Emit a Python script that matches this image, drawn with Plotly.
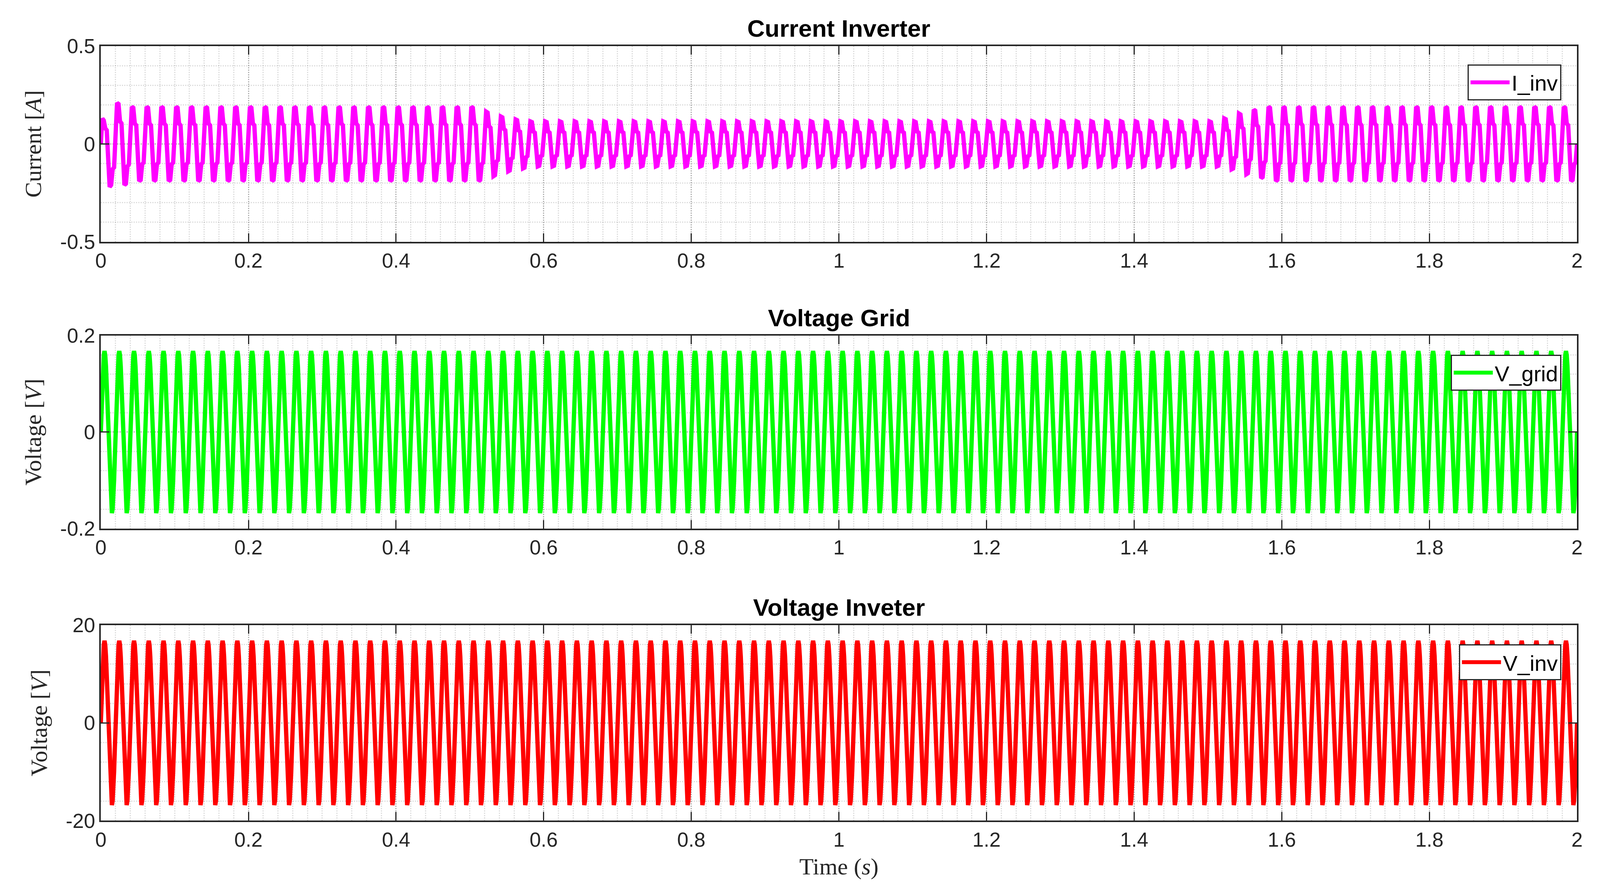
import numpy as np
import plotly.graph_objects as go
from plotly.subplots import make_subplots

# ---- data ----
f_grid = 50.0          # Hz, 100 cycles over 2 s
n_cycles = 100
t_end = 2.0

# one normalised cycle of the inverter current (10 samples)
i_cycle_shape = [0.6, 1.0, 0.97, 0.55, 0.5, -0.6, -1.0, -0.97, -0.55, -0.5]
# first cycle (start-up transient)
i_first_cycle = [0.0, 0.13, 0.12, 0.08, 0.07, -0.12, -0.22, -0.21, -0.13, -0.12]
# peak amplitude of each following cycle [A]
i_cycle_amp = ([0.21] + [0.19] * 24 + [0.165, 0.14, 0.125] + [0.115] * 47
               + [0.13, 0.155, 0.175] + [0.19] * 21)

# one normalised cycle of the voltages (20 samples)
v_cycle_shape = [0.0, 0.31, 0.59, 0.81, 0.95, 1.0, 0.95, 0.81, 0.59, 0.31,
                 0.0, -0.31, -0.59, -0.81, -0.95, -1.0, -0.95, -0.81, -0.59, -0.31]
v_grid_amp = 0.168     # V
v_inv_amp = 16.8       # V

x_ticks = [0, 0.2, 0.4, 0.6, 0.8, 1, 1.2, 1.4, 1.6, 1.8, 2]
y_ticks = [[-0.5, 0, 0.5], [-0.2, 0, 0.2], [-20, 0, 20]]
panel_titles = ["Current Inverter", "Voltage Grid", "Voltage Inveter"]


def build(shape, amps, first=None):
    vals = []
    for k, a in enumerate(amps):
        if k == 0 and first is not None:
            vals += first
        else:
            vals += [a * s for s in shape]
    vals.append(0.0)
    t = np.linspace(0, t_end, len(vals))
    return t, np.array(vals)


t_i, i_inv = build(i_cycle_shape, [0.0] + i_cycle_amp, i_first_cycle)
t_v, v_grid = build(v_cycle_shape, [v_grid_amp] * n_cycles)
_, v_inv = build(v_cycle_shape, [v_inv_amp] * n_cycles)

fig = make_subplots(rows=3, cols=1)

fig.add_trace(go.Scatter(x=t_i, y=i_inv, mode="lines", name="I_inv", showlegend=True,
                         line=dict(color="#ff00ff", width=11), legend="legend"), row=1, col=1)
fig.add_trace(go.Scatter(x=t_v, y=v_grid, mode="lines", name="V_grid", showlegend=True,
                         line=dict(color="#00ff00", width=11), legend="legend2"), row=2, col=1)
fig.add_trace(go.Scatter(x=t_v, y=v_inv, mode="lines", name="V_inv", showlegend=True,
                         line=dict(color="#ff0000", width=11), legend="legend3"), row=3, col=1)

doms = [[0.735, 0.960], [0.405, 0.627], [0.069, 0.294]]
yranges = [[-0.5, 0.5], [-0.2, 0.2], [-20, 20]]
ydt = [0.5, 0.2, 20]
ytitles = ["Current [<i>A</i>]", "Voltage [<i>V</i>]", "Voltage [<i>V</i>]"]
axis_col = "#262626"
grid_col = "rgba(120,120,120,0.45)"
minor_col = "rgba(140,140,140,0.3)"

for r in range(3):
    fig.update_xaxes(row=r + 1, col=1, range=[0, 2], domain=[0.060, 0.989],
                     tickvals=x_ticks, ticktext=[str(v) for v in x_ticks],
                     ticks="inside", ticklen=22, tickwidth=3, tickcolor=axis_col,
                     showline=True, linewidth=4, linecolor=axis_col, mirror="allticks",
                     showgrid=True, gridcolor=grid_col, griddash="dot", gridwidth=3,
                     minor=dict(dtick=0.02, showgrid=True, gridcolor=minor_col,
                                griddash="dot", gridwidth=3),
                     zeroline=False,
                     tickfont=dict(family="Arial, Liberation Sans", size=52, color=axis_col))
    fig.update_yaxes(row=r + 1, col=1, range=yranges[r], domain=doms[r],
                     tickvals=y_ticks[r], ticktext=[str(v) for v in y_ticks[r]],
                     ticks="inside", ticklen=22, tickwidth=3, tickcolor=axis_col,
                     showline=True, linewidth=4, linecolor=axis_col, mirror="allticks",
                     showgrid=True, gridcolor=grid_col, griddash="dot", gridwidth=3,
                     minor=dict(dtick=ydt[r] / 5, showgrid=True, gridcolor=minor_col,
                                griddash="dot", gridwidth=3),
                     zeroline=False,
                     title=dict(text=ytitles[r], standoff=30,
                                font=dict(family="Liberation Serif, Times New Roman", size=60,
                                          color=axis_col)),
                     tickfont=dict(family="Arial, Liberation Sans", size=52, color=axis_col))

fig.update_xaxes(row=3, col=1,
                 title=dict(text="Time (<i>s</i>)", standoff=20,
                            font=dict(family="Liberation Serif, Times New Roman", size=60,
                                      color=axis_col)))

for r, title in enumerate(panel_titles):
    fig.add_annotation(text="<b>" + title + "</b>", xref="paper", yref="paper",
                       x=0.5245, y=doms[r][1] + 0.004, xanchor="center", yanchor="bottom",
                       showarrow=False,
                       font=dict(family="Arial, Liberation Sans", size=62, color="#000000"))

leg_style = dict(xanchor="right", yanchor="top", bgcolor="white", bordercolor=axis_col,
                 borderwidth=3, font=dict(family="Arial, Liberation Sans", size=56, color="#000"),
                 itemwidth=100)
fig.update_layout(
    autosize=True, showlegend=True,
    paper_bgcolor="white", plot_bgcolor="white",
    margin=dict(l=0, r=0, t=0, b=0),
    legend=dict(x=0.979, y=0.939, **leg_style),
    legend2=dict(x=0.979, y=0.605, **leg_style),
    legend3=dict(x=0.979, y=0.272, **leg_style),
)

fig.write_html("out.html", default_width="100vw", default_height="100vh",
               config={"displayModeBar": False},
               post_script="document.body.style.margin='0';document.body.style.overflow='hidden';")
